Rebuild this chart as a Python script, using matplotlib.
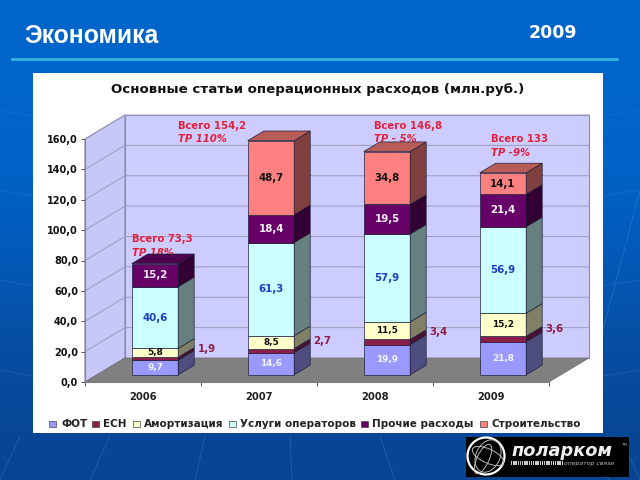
import numpy as np
import matplotlib
matplotlib.use("Agg")
import matplotlib.pyplot as plt
from matplotlib.patches import Polygon, Rectangle, Circle, Ellipse

years = ["2006", "2007", "2008", "2009"]
names = ["ФОТ", "ЕСН", "Амортизация", "Услуги операторов", "Прочие расходы", "Строительство"]
fot = [9.7, 14.6, 19.9, 21.8]
esn = [1.9, 2.7, 3.4, 3.6]
amort = [5.8, 8.5, 11.5, 15.2]
uslugi = [40.6, 61.3, 57.9, 56.9]
prochie = [15.2, 18.4, 19.5, 21.4]
stroy = [0, 48.7, 34.8, 14.1]
series = [fot, esn, amort, uslugi, prochie, stroy]
yticks = [0, 20, 40, 60, 80, 100, 120, 140, 160]

front_col = ["#9999FF", "#8C1F4A", "#FFFFCC", "#CCFFFF", "#660066", "#FF8080"]
side_col = ["#4D4D80", "#4A1030", "#808066", "#668080", "#330033", "#804040"]
top_col = ["#7373BF", "#6A1838", "#BFBF99", "#99BFBF", "#4D004D", "#B85C58"]
label_col = ["#F4F4FF", "#8C1F4A", "#111111", "#1A3FC0", "#F8F0F8", "#111111"]
red = "#E4203C"

# сдвиг глубины, пиксели -> единицы осей
DX = 40 / 116
DY = 24 / (243 / 160)
BAR_D0, BAR_D1 = 0.3, 0.7
BAR_W = 0.4


def proj(x, y, d):
    return (x + d * DX, y + d * DY)


fig = plt.figure(figsize=(6.4, 4.8), dpi=100)

# 1. фон слайда и панель, координаты в пикселях
bg = fig.add_axes([0, 0, 1, 1])
bg.set_xlim(0, 640)
bg.set_ylim(480, 0)
bg.axis("off")
grad = np.array([[0.0, 0.4, 0.8], [0.0, 0.39, 0.79], [0.02, 0.33, 0.68], [0.03, 0.27, 0.58]])
bg.imshow(grad[:, None, :], extent=[0, 640, 480, 0], aspect="auto", interpolation="bicubic")
for x0, x1 in [(20, 0), (110, 90), (205, 195), (290, 292), (380, 395), (470, 500), (560, 610), (620, 640)]:
    bg.plot([x0, x1], [436, 480], color="#3F86D0", lw=0.5, alpha=0.5)
for y0 in [110, 190, 280, 370]:
    bg.plot([0, 32], [y0, y0 + 6], color="#3F86D0", lw=0.5, alpha=0.4)
    bg.plot([603, 640], [y0 + 6, y0], color="#3F86D0", lw=0.5, alpha=0.4)
bg.plot([603, 640], [330, 190], color="#3F86D0", lw=0.6, alpha=0.5)
bg.plot([12, 617], [58.7, 58.7], color="#2FB5E0", lw=2)
bg.add_patch(Rectangle((32.5, 72.5), 570.5, 360.5, fc="white", ec="none"))
bg.text(24, 36, "Экономика", color="white", fontsize=17.8, fontweight="bold",
        family="Liberation Sans", va="center")
bg.text(529, 33, "2009", color="white", fontsize=12.5, fontweight="bold", va="center")
bg.text(317.5, 90, "Основные статьи операционных расходов (млн.руб.)", color="#111111",
        fontsize=9.6, fontweight="bold", ha="center", va="center")

# 2. диаграмма
ax = fig.add_axes([85 / 640, 1 - 382 / 480, 464 / 640, 243 / 480])
ax.patch.set_visible(False)
ax.set_xlim(-0.5, 3.5)
ax.set_ylim(0, 160)
for s in ax.spines.values():
    s.set_visible(False)

wall_ec = "#8A8AA8"
x_l, x_r = -0.5, 3.5
ax.add_patch(Polygon([proj(x_l, 0, 0), proj(x_l, 0, 1), proj(x_l, 160, 1), proj(x_l, 160, 0)],
                     fc="#C8C8F8", ec=wall_ec, lw=0.8, clip_on=False, zorder=1))
ax.add_patch(Polygon([proj(x_l, 0, 1), proj(x_r, 0, 1), proj(x_r, 160, 1), proj(x_l, 160, 1)],
                     fc="#CCCCFF", ec=wall_ec, lw=0.8, clip_on=False, zorder=1))
ax.add_patch(Polygon([proj(x_l, 0, 0), proj(x_r, 0, 0), proj(x_r, 0, 1), proj(x_l, 0, 1)],
                     fc="#808080", ec="#6E6E6E", lw=0.5, clip_on=False, zorder=1))
for t in yticks[1:]:
    p0, p1, p2 = proj(x_l, t, 0), proj(x_l, t, 1), proj(x_r, t, 1)
    ax.plot([p0[0], p1[0], p2[0]], [p0[1], p1[1], p2[1]], color="#9C9CBC", lw=0.7,
            clip_on=False, zorder=1.5)
ax.plot([x_l, x_l], [0, 160], color="#808090", lw=0.8, clip_on=False, zorder=1.6)
ax.plot([x_l, x_r], [0, 0], color="#808080", lw=0.8, clip_on=False, zorder=1.6)

ax.set_yticks(yticks)
ax.set_yticklabels([f"{t:.1f}".replace(".", ",") for t in yticks], fontsize=7, fontweight="bold", color="#111111")
ax.set_xticks([-0.5, 0.5, 1.5, 2.5, 3.5])
ax.set_xticklabels([])
ax.set_xticks(range(4), labels=years, minor=True, fontsize=7.2, fontweight="bold", color="#222222")
ax.tick_params(axis="x", which="major", length=3, width=0.7, color="#555555")
ax.tick_params(axis="x", which="minor", length=0, pad=7)
ax.tick_params(axis="y", length=3, width=0.7, color="#555555", pad=2)

# подписи "Всего" лежат за столбиками
totals = [("Всего 73,3", "ТР 18%", 131.7, 239), ("Всего 154,2", "ТР 110%", 178, 125.7),
          ("Всего 146,8", "ТР - 5%", 374, 125.7), ("Всего 133", "ТР -9%", 491, 139)]
for line1, line2, px, py in totals:
    ax.text(px, py, line1, color=red, fontsize=7.3, fontweight="bold", va="center",
            transform=bg.transData, zorder=2, clip_on=False)
    ax.text(px, py + 13.5, line2, color=red, fontsize=7.3, fontweight="bold", style="italic",
            va="center", transform=bg.transData, zorder=2, clip_on=False)

edge = "#20203A"
for i in range(4):
    base = 0
    x_left = i - BAR_W / 2
    x_right = i + BAR_W / 2
    for k, vals in enumerate(series):
        v = vals[i]
        if v == 0:
            continue
        xf, yf = proj(i, base, BAR_D0)
        ax.bar(xf, v, bottom=yf, width=BAR_W, color=front_col[k], edgecolor=edge, linewidth=0.5,
               zorder=4, clip_on=False)
        # боковая грань
        ax.add_patch(Polygon([proj(x_right, base, BAR_D0), proj(x_right, base, BAR_D1),
                              proj(x_right, base + v, BAR_D1), proj(x_right, base + v, BAR_D0)],
                             fc=side_col[k], ec=edge, lw=0.5, clip_on=False, zorder=4))
        cx, cy = proj(i, base + v / 2, BAR_D0)
        if k != 1:
            ax.text(cx, cy, f"{v:.1f}".replace(".", ","), color=label_col[k], ha="center", va="center",
                    fontsize=6.4 if k in (0, 2) else 7.4, fontweight="bold", zorder=6, clip_on=False)
        else:
            ex, ey = proj(x_right, base + v / 2, BAR_D1)
            ax.annotate(f"{v:.1f}".replace(".", ","), (ex, ey), xytext=(2.5, 0), textcoords="offset points",
                        color=label_col[k], va="center", ha="left", fontsize=7.4, fontweight="bold",
                        zorder=6, annotation_clip=False)
        base += v
        last = k
    # верхняя грань
    ax.add_patch(Polygon([proj(x_left, base, BAR_D0), proj(x_right, base, BAR_D0),
                          proj(x_right, base, BAR_D1), proj(x_left, base, BAR_D1)],
                         fc=top_col[last], ec=edge, lw=0.5, clip_on=False, zorder=4))

# 3. легенда
bg_top = fig.add_axes([0, 0, 1, 1], zorder=5)
bg_top.set_xlim(0, 640)
bg_top.set_ylim(480, 0)
bg_top.axis("off")
leg_sq = [49, 92, 133, 229, 361, 480]
leg_tx = [61, 103, 144, 240, 372, 492]
for k, name in enumerate(names):
    bg_top.add_patch(Rectangle((leg_sq[k], 420.5), 7, 6, fc=front_col[k], ec="#444444", lw=0.5))
    bg_top.text(leg_tx[k], 424, name, fontsize=7.5, fontweight="bold", color="#222222", va="center")

# 4. логотип
bg_top.add_patch(Rectangle((466, 437), 163, 40, fc="black", ec="none"))
gx, gy = 486, 456
bg_top.add_patch(Circle((gx, gy), 18.5, fc="none", ec="white", lw=1.6))
bg_top.add_patch(Ellipse((gx + 2, gy), 24, 34, angle=25, fc="none", ec="#BBBBBB", lw=0.7))
bg_top.add_patch(Ellipse((gx + 2, gy), 34, 14, angle=25, fc="none", ec="#BBBBBB", lw=0.7))
bg_top.add_patch(Ellipse((gx - 3, gy + 3), 12, 32, angle=25, fc="none", ec="#BBBBBB", lw=0.7))
bg_top.text(512, 451, "поларком", color="#EEEEEE", fontsize=12.8, fontweight="bold", style="italic", va="center")
bg_top.text(621, 445, "TM", color="#AAAAAA", fontsize=3, va="center")
for sx in np.arange(511, 562, 2.2):
    bg_top.add_patch(Rectangle((sx, 461), 1.4, 4, fc="#CCCCCC", ec="none"))
bg_top.text(564, 463, "оператор связи", color="#BBBBBB", fontsize=4.4, style="italic", va="center")

fig.savefig("out.png", dpi=100)
